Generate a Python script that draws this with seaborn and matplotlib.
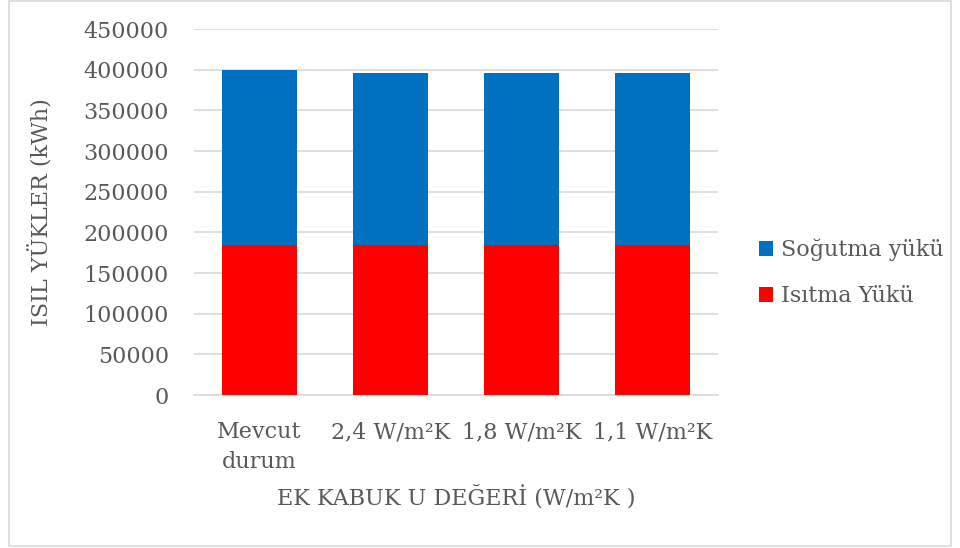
import matplotlib
matplotlib.use("Agg")
import matplotlib.pyplot as plt
from matplotlib.patches import Patch, Rectangle
import seaborn as sns
import pandas as pd

# Thermal loads per U-value case (kWh)
categories = ["Mevcut\ndurum", "2,4 W/m²K", "1,8 W/m²K", "1,1 W/m²K"]
isitma_yuku = [184000, 184000, 184000, 184000]      # heating load
sogutma_yuku = [215000, 212000, 211500, 212000]     # cooling load
y_ticks = [0, 50000, 100000, 150000, 200000, 250000, 300000, 350000, 400000, 450000]

df = pd.DataFrame({
    "durum": categories,
    "isitma": isitma_yuku,
    "sogutma": sogutma_yuku,
})
df["toplam"] = df["isitma"] + df["sogutma"]

sns.set_theme(style="white")
plt.rcParams["font.family"] = ["DejaVu Serif"]
text_color = "#595959"
grid_color = "#d9d9d9"
blue = "#0070C0"
red = "#FF0000"

W, H = 960, 548
fig = plt.figure(figsize=(W / 100, H / 100), dpi=100)
ax_left, ax_bottom_px, ax_top_px, ax_right = 194, 395, 29, 718
ax = fig.add_axes([ax_left / W, 1 - ax_bottom_px / H,
                   (ax_right - ax_left) / W, (ax_bottom_px - ax_top_px) / H])

# stacked bars: total (cooling on top) then heating in front
sns.barplot(data=df, x="durum", y="toplam", color=blue, width=0.57,
            saturation=1, ax=ax, zorder=3, edgecolor="none")
sns.barplot(data=df, x="durum", y="isitma", color=red, width=0.57,
            saturation=1, ax=ax, zorder=4, edgecolor="none")

ax.set_ylim(0, 450000)
ax.set_yticks(y_ticks)
ax.set_yticklabels([str(v) for v in y_ticks])
ax.set_xlim(-0.5, len(categories) - 0.5)
ax.yaxis.grid(True, color=grid_color, linewidth=1.2, zorder=0)
ax.set_axisbelow(True)
for side in ["top", "right", "left"]:
    ax.spines[side].set_visible(False)
ax.spines["bottom"].set_color(grid_color)
ax.spines["bottom"].set_linewidth(1.2)

fs = 16
ax.tick_params(axis="both", length=0, labelsize=fs, labelcolor=text_color)
ax.tick_params(axis="y", pad=18)
ax.tick_params(axis="x", pad=19)
for lbl in ax.get_xticklabels():
    lbl.set_linespacing(1.45)
ax.set_xlabel("EK KABUK U DEĞERİ (W/m²K )", fontsize=fs, color=text_color)
ax.set_ylabel("ISIL YÜKLER (kWh)", fontsize=fs, color=text_color)
ax_w = ax_right - ax_left
ax_h = ax_bottom_px - ax_top_px
ax.yaxis.set_label_coords((52 - ax_left) / ax_w, 0.5)
ax.xaxis.set_label_coords(0.5, (ax_bottom_px - 485) / ax_h)

handles = [Patch(facecolor=blue, edgecolor="none", label="Soğutma yükü"),
           Patch(facecolor=red, edgecolor="none", label="Isıtma Yükü")]
leg = fig.legend(handles=handles, loc="center left",
                 bbox_to_anchor=(739 / W, 1 - 273 / H), frameon=False,
                 fontsize=fs, handlelength=0.65, handleheight=0.65,
                 handletextpad=0.35, labelspacing=1.1)
for t in leg.get_texts():
    t.set_color(text_color)

# chart border
fig.patches.append(Rectangle((9 / W, 1 - 546 / H), (951 - 9) / W, (546 - 1) / H,
                             transform=fig.transFigure, fill=False,
                             edgecolor=grid_color, linewidth=1.2))

fig.savefig("out.png", dpi=100)
